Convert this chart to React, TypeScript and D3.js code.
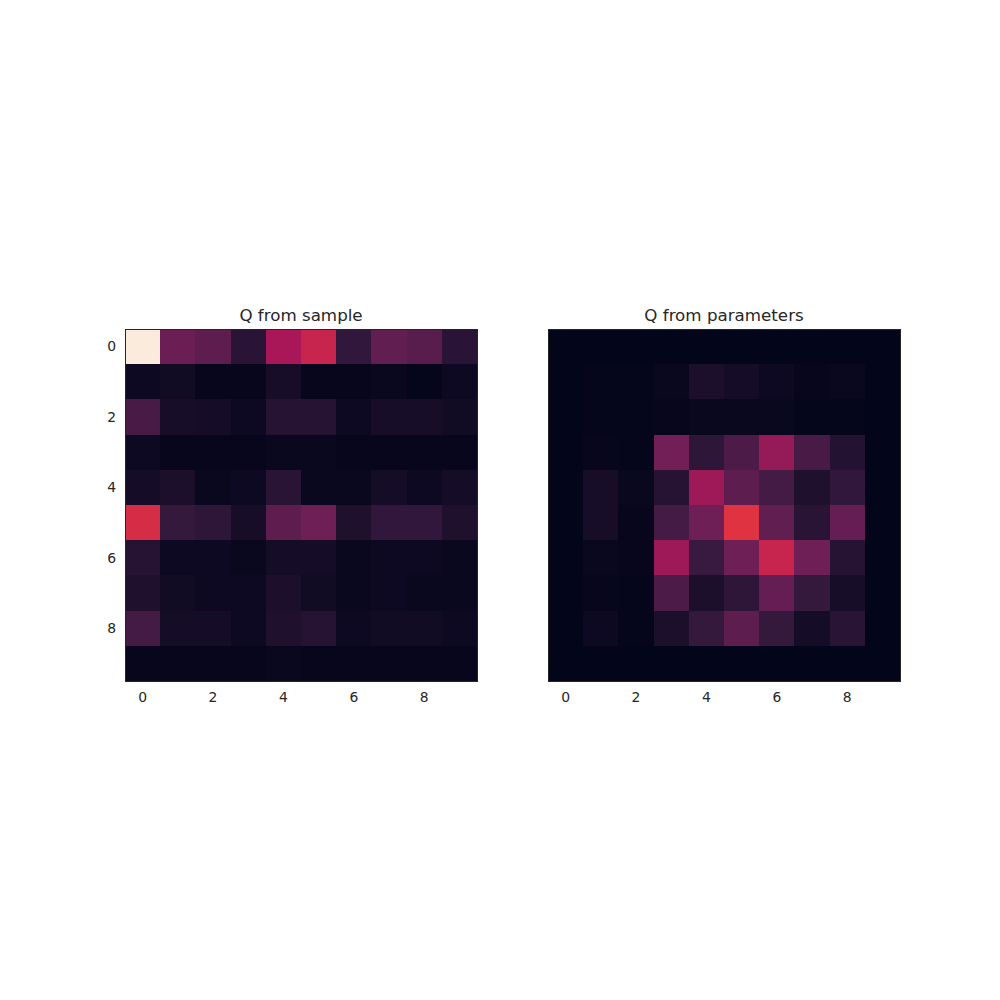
import React from "react";
import * as d3 from "d3";

// normalized values (shared colour scale 0..1)
const rowIdx = [0, 1, 2, 3, 4, 5, 6, 7, 8, 9];
const colIdx = [0, 1, 2, 3, 4, 5, 6, 7, 8, 9];
const tickLabels = [0, 2, 4, 6, 8];

const sampleQ = [
  [1.0, 0.27, 0.24, 0.11, 0.42, 0.5, 0.13, 0.25, 0.23, 0.11],
  [0.03, 0.04, 0.01, 0.01, 0.06, 0.01, 0.01, 0.02, 0.005, 0.03],
  [0.19, 0.06, 0.05, 0.03, 0.1, 0.1, 0.03, 0.06, 0.06, 0.04],
  [0.03, 0.01, 0.01, 0.01, 0.02, 0.02, 0.01, 0.01, 0.01, 0.01],
  [0.05, 0.07, 0.02, 0.03, 0.11, 0.02, 0.02, 0.05, 0.03, 0.05],
  [0.54, 0.14, 0.12, 0.06, 0.24, 0.28, 0.08, 0.13, 0.13, 0.08],
  [0.1, 0.03, 0.03, 0.02, 0.05, 0.05, 0.02, 0.03, 0.03, 0.02],
  [0.08, 0.04, 0.03, 0.03, 0.07, 0.04, 0.02, 0.03, 0.02, 0.02],
  [0.18, 0.05, 0.05, 0.03, 0.08, 0.1, 0.03, 0.04, 0.04, 0.03],
  [0.01, 0.01, 0.01, 0.01, 0.02, 0.01, 0.01, 0.01, 0.01, 0.01],
];

const paramQ = [
  [0, 0, 0, 0, 0, 0, 0, 0, 0, 0],
  [0, 0.005, 0.005, 0.02, 0.07, 0.05, 0.03, 0.01, 0.02, 0],
  [0, 0.005, 0.005, 0.01, 0.02, 0.02, 0.02, 0.005, 0.005, 0],
  [0, 0.01, 0.005, 0.29, 0.12, 0.2, 0.37, 0.19, 0.09, 0],
  [0, 0.06, 0.02, 0.1, 0.39, 0.24, 0.18, 0.08, 0.13, 0],
  [0, 0.06, 0.01, 0.18, 0.28, 0.57, 0.25, 0.11, 0.26, 0],
  [0, 0.02, 0.01, 0.39, 0.15, 0.28, 0.5, 0.28, 0.1, 0],
  [0, 0.01, 0.005, 0.2, 0.07, 0.12, 0.26, 0.14, 0.06, 0],
  [0, 0.03, 0.005, 0.07, 0.14, 0.24, 0.14, 0.05, 0.11, 0],
  [0, 0, 0, 0, 0, 0, 0, 0, 0, 0],
];

// rocket colormap stops
const rocketStops = [0, 1 / 7, 2 / 7, 3 / 7, 4 / 7, 5 / 7, 6 / 7, 1];
const rocketColors = ["#03051a", "#35193e", "#701f57", "#ad1759", "#e13342", "#f37651", "#f6b48f", "#faebdd"];

const color = d3.scaleLinear<string>().domain(rocketStops).range(rocketColors).interpolate(d3.interpolateRgb).clamp(true);

const size = 352;
const top = 329;
const font = "DejaVu Sans, sans-serif";

const Heatmap = ({ data, left, title, showY }: { data: number[][]; left: number; title: string; showY: boolean }) => {
  const x = d3.scaleBand<number>().domain(colIdx).range([left, left + size]);
  const y = d3.scaleBand<number>().domain(rowIdx).range([top, top + size]);
  const right = left + size;
  const bottom = top + size;
  return (
    <g>
      <g shapeRendering="crispEdges">
        {rowIdx.map((r) =>
          colIdx.map((c) => {
            const x0 = Math.round(x(c)!);
            const y0 = Math.round(y(r)!);
            const x1 = c === 9 ? right : Math.round(x(c)! + x.bandwidth());
            const y1 = r === 9 ? bottom : Math.round(y(r)! + y.bandwidth());
            return <rect key={`${r}-${c}`} x={x0} y={y0} width={x1 - x0} height={y1 - y0} fill={color(data[r][c])} />;
          })
        )}
      </g>
      <rect x={left} y={top} width={size} height={size} fill="none" stroke="#262626" strokeWidth={1} shapeRendering="crispEdges" />
      <text x={left + size / 2} y={top - 8} textAnchor="middle" fontFamily={font} fontSize={16.7} fill="#262626">
        {title}
      </text>
      {tickLabels.map((t) => (
        <text key={"x" + t} x={x(t)! + x.bandwidth() / 2} y={top + size + 21} textAnchor="middle" fontFamily={font} fontSize={13.9} fill="#262626">
          {t}
        </text>
      ))}
      {showY &&
        tickLabels.map((t) => (
          <text key={"y" + t} x={left - 9} y={y(t)! + y.bandwidth() / 2} dy="0.35em" textAnchor="end" fontFamily={font} fontSize={13.9} fill="#262626">
            {t}
          </text>
        ))}
    </g>
  );
};

export default function App() {
  return (
    <svg width={1000} height={1000} style={{ position: "absolute", left: 0, top: 0, background: "#fff" }}>
      <rect x={0} y={0} width={1000} height={1000} fill="#fff" />
      <Heatmap data={sampleQ} left={125} title="Q from sample" showY={true} />
      <Heatmap data={paramQ} left={548} title="Q from parameters" showY={false} />
    </svg>
  );
}
